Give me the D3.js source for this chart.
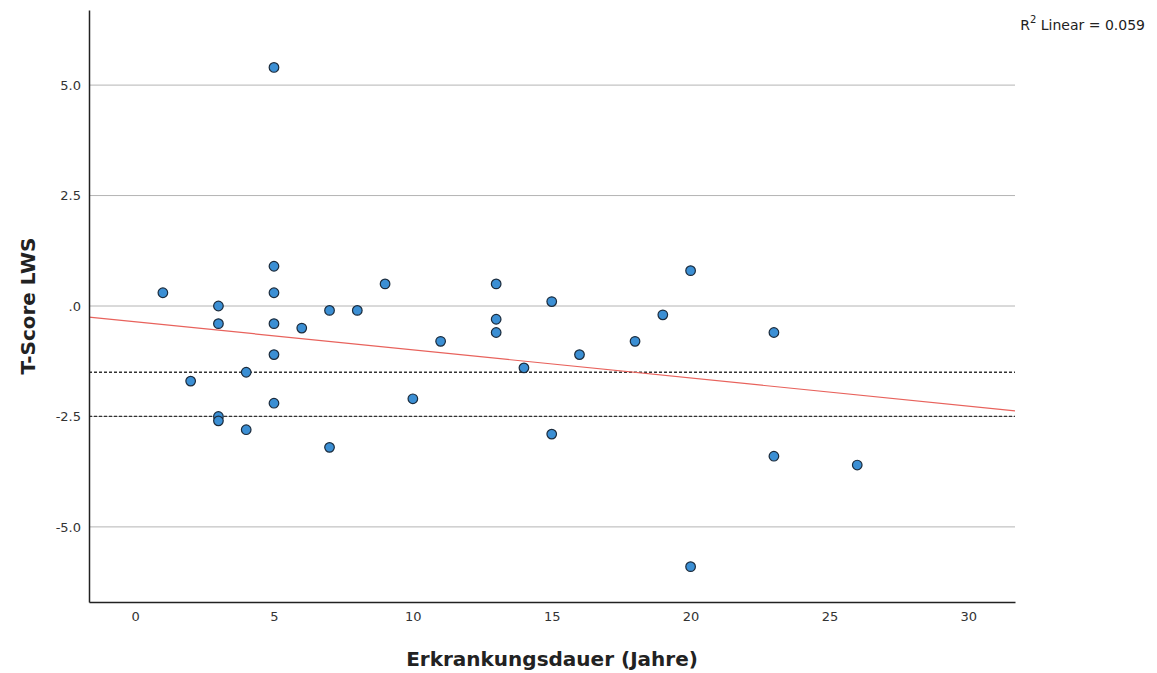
<!DOCTYPE html>
<html>
<head>
<meta charset="utf-8">
<script src="https://cdn.jsdelivr.net/npm/d3@7"></script>
<style>
  body { margin: 0; background: #fff; }
  text { font-family: "DejaVu Sans", sans-serif; }
</style>
</head>
<body>
<div id="chart"></div>
<script>
// data
var dauer = [1, 2, 3, 3, 3, 3, 4, 4, 5, 5, 5, 5, 5, 5, 6, 7, 7, 8, 9, 10, 11,
  13, 13, 13, 14, 15, 15, 16, 18, 19, 20, 20, 23, 23, 26];
var tScore = [0.3, -1.7, 0.0, -0.4, -2.5, -2.6, -1.5, -2.8, 5.4, 0.9, 0.3, -0.4, -1.1, -2.2, -0.5, -0.1, -3.2, -0.1, 0.5, -2.1, -0.8,
  0.5, -0.3, -0.6, -1.4, 0.1, -2.9, -1.1, -0.8, -0.2, 0.8, -5.9, -0.6, -3.4, -3.6];
var yTicks = [-5, -2.5, 0, 2.5, 5];
var xTicks = [0, 5, 10, 15, 20, 25, 30];
var refLines = [-1.5, -2.5];
// fit line as shown (intercept, slope)
var fitLine = [-0.356, -0.0637];
var r2Label = "0.059";

var width = 1157, height = 673;
var plotLeft = 89, plotRight = 1015, plotTop = 10, plotBottom = 602;

var svg = d3.select("#chart").append("svg")
  .attr("width", width)
  .attr("height", height);

var x = d3.scaleLinear().domain([-1.66, 31.68]).range([plotLeft, plotRight]);
var y = d3.scaleLinear().domain([-6.7, 6.7]).range([plotBottom, plotTop]);

// gridlines
svg.append("g")
  .selectAll("line")
  .data(yTicks)
  .enter()
  .append("line")
  .attr("x1", plotLeft).attr("x2", plotRight)
  .attr("y1", function(d) { return y(d); })
  .attr("y2", function(d) { return y(d); })
  .attr("stroke", "#b4b4b4")
  .attr("stroke-width", 1);

// dashed reference lines
svg.append("g")
  .selectAll("line")
  .data(refLines)
  .enter()
  .append("line")
  .attr("x1", plotLeft).attr("x2", plotRight)
  .attr("y1", function(d) { return y(d); })
  .attr("y2", function(d) { return y(d); })
  .attr("stroke", "#333")
  .attr("stroke-width", 1.3)
  .attr("stroke-dasharray", "3,2");

// regression line
var xd = x.domain();
svg.append("line")
  .attr("x1", x(xd[0])).attr("x2", x(xd[1]))
  .attr("y1", y(fitLine[0] + fitLine[1] * xd[0]))
  .attr("y2", y(fitLine[0] + fitLine[1] * xd[1]))
  .attr("stroke", "#e8625c")
  .attr("stroke-width", 1.2);

// y axis
var yAxis = d3.axisLeft(y)
  .tickValues(yTicks)
  .tickSize(0)
  .tickPadding(8)
  .tickFormat(function(d) { return d === 0 ? ".0" : d3.format(".1f")(d).replace("−", "-"); });
var gy = svg.append("g")
  .attr("transform", "translate(" + plotLeft + ",0)")
  .call(yAxis);
gy.select(".domain").attr("stroke", "#222").attr("stroke-width", 1.5);
gy.selectAll("text").attr("font-size", 13).attr("fill", "#333");

// x axis
var xAxis = d3.axisBottom(x)
  .tickValues(xTicks)
  .tickSize(0)
  .tickPadding(10);
var gx = svg.append("g")
  .attr("transform", "translate(0," + plotBottom + ")")
  .call(xAxis);
gx.select(".domain").attr("stroke", "#222").attr("stroke-width", 1.5);
gx.selectAll("text").attr("font-size", 13).attr("fill", "#333");

// points
svg.append("g")
  .selectAll("circle")
  .data(dauer)
  .enter()
  .append("circle")
  .attr("cx", function(d) { return x(d); })
  .attr("cy", function(d, i) { return y(tScore[i]); })
  .attr("r", 4.8)
  .attr("fill", "#3b8fd4")
  .attr("stroke", "#1b2b3c")
  .attr("stroke-width", 1.2);

// axis titles
svg.append("text")
  .attr("x", (plotLeft + plotRight) / 2)
  .attr("y", 666)
  .attr("text-anchor", "middle")
  .attr("font-size", 20)
  .attr("font-weight", "bold")
  .attr("fill", "#222")
  .text("Erkrankungsdauer (Jahre)");

svg.append("text")
  .attr("transform", "translate(35," + (plotTop + plotBottom) / 2 + ")rotate(-90)")
  .attr("text-anchor", "middle")
  .attr("font-size", 20)
  .attr("font-weight", "bold")
  .attr("fill", "#222")
  .text("T-Score LWS");

// R2 label
var r2 = svg.append("text")
  .attr("x", 1145)
  .attr("y", 30)
  .attr("text-anchor", "end")
  .attr("font-size", 14)
  .attr("fill", "#222");
r2.append("tspan").text("R");
r2.append("tspan").attr("dy", -7).attr("font-size", 10).text("2");
r2.append("tspan").attr("dy", 7).text(" Linear = " + r2Label);
</script>
</body>
</html>
